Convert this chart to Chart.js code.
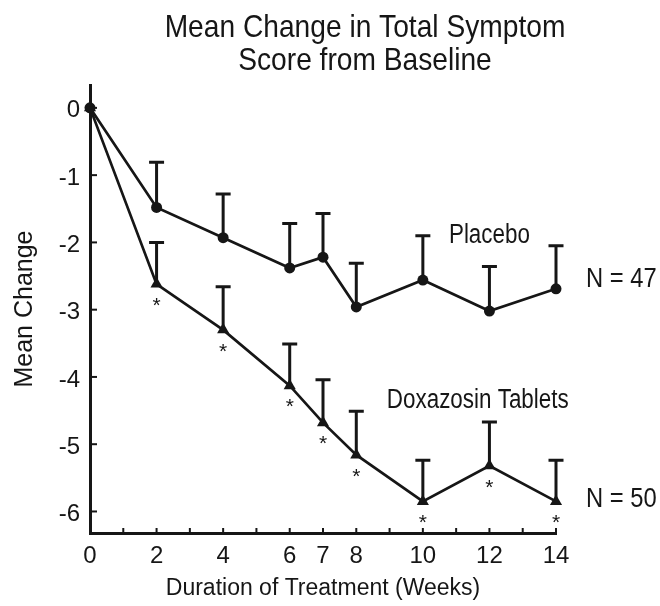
<!DOCTYPE html>
<html><head><meta charset="utf-8">
<script src="https://cdn.jsdelivr.net/npm/chart.js@4/dist/chart.umd.min.js"></script>
<style>html,body{margin:0;padding:0;background:#fff;}#wrap{width:660px;height:606px;}</style>
</head><body><div id="wrap"><canvas id="c" width="660" height="606"></canvas></div>
<script>
// ---- data ----
const weeks = [0, 2, 4, 6, 7, 8, 10, 12, 14];
const placeboMean = [0, -1.48, -1.93, -2.38, -2.22, -2.96, -2.56, -3.02, -2.69];
const placeboSE   = [0, 0.67, 0.65, 0.66, 0.65, 0.65, 0.66, 0.66, 0.64];
const doxMean     = [0, -2.62, -3.30, -4.13, -4.68, -5.16, -5.85, -5.32, -5.85];
const doxSE       = [0, 0.62, 0.64, 0.62, 0.64, 0.65, 0.61, 0.65, 0.61];
const doxSignificant = [false, true, true, true, true, true, true, true, true];
const yTickValues = [0, -1, -2, -3, -4, -5, -6];
const xTickLabels = [0, 2, 4, 6, 7, 8, 10, 12, 14];
const xMinorTicks = [1, 2, 3, 4, 5, 6, 7, 8, 9, 10, 11, 12, 13, 14];
const titleLines = ['Mean Change in Total Symptom', 'Score from Baseline'];
const seriesNames = ['Placebo', 'Doxazosin Tablets'];
const sampleSizes = ['N = 47', 'N = 50'];
const yAxisTitle = 'Mean Change';
const xAxisTitle = 'Duration of Treatment (Weeks)';

// ---- style / layout ----
const FONT = "'Liberation Sans', Arial, sans-serif";
const INK = '#161616';
Chart.defaults.font.family = FONT;
Chart.defaults.color = INK;

const annotations = [
  {text: seriesNames[0], x: 12, y: -1.9, align: 'center', sx: 0.83},
  {text: sampleSizes[0], x: 14.9, y: -2.55, align: 'left', sx: 0.88},
  {text: seriesNames[1], x: 11.65, y: -4.35, align: 'center', sx: 0.83},
  {text: sampleSizes[1], x: 14.9, y: -5.82, align: 'left', sx: 0.88}
];

const toPts = (ys) => weeks.map((w, i) => ({x: w, y: ys[i]}));

function narrowText(ctx, text, x, y, align, size, sx) {
  ctx.save();
  ctx.translate(x, y);
  ctx.scale(sx, 1);
  ctx.font = size + 'px ' + FONT;
  ctx.textAlign = align;
  ctx.textBaseline = 'middle';
  ctx.fillText(text, 0, 0);
  ctx.restore();
}

const decor = {
  id: 'decor',
  beforeDatasetsDraw(chart) {
    const ctx = chart.ctx, xs = chart.scales.x, ys = chart.scales.y;
    ctx.save();
    ctx.strokeStyle = INK; ctx.lineWidth = 3; ctx.lineCap = 'butt';
    [[placeboMean, placeboSE], [doxMean, doxSE]].forEach(([m, se]) => {
      weeks.forEach((w, i) => {
        if (!se[i]) return;
        const px = xs.getPixelForValue(w);
        const y0 = ys.getPixelForValue(m[i]);
        const y1 = ys.getPixelForValue(m[i] + se[i]);
        ctx.beginPath();
        ctx.moveTo(px, y0); ctx.lineTo(px, y1);
        ctx.moveTo(px - 7.5, y1); ctx.lineTo(px + 7.5, y1);
        ctx.stroke();
      });
    });
    ctx.restore();
  },
  afterDraw(chart) {
    const ctx = chart.ctx, xs = chart.scales.x, ys = chart.scales.y, ca = chart.chartArea;
    ctx.save();
    // inward tick marks
    ctx.strokeStyle = INK; ctx.lineWidth = 2;
    yTickValues.forEach(v => {
      const py = ys.getPixelForValue(v);
      ctx.beginPath(); ctx.moveTo(ca.left, py); ctx.lineTo(ca.left + 7, py); ctx.stroke();
    });
    xMinorTicks.forEach(v => {
      const px = xs.getPixelForValue(v);
      ctx.beginPath(); ctx.moveTo(px, ca.bottom); ctx.lineTo(px, ca.bottom - 5); ctx.stroke();
    });
    ctx.fillStyle = INK;
    // significance stars
    weeks.forEach((w, i) => {
      if (!doxSignificant[i]) return;
      narrowText(ctx, '*', xs.getPixelForValue(w), ys.getPixelForValue(doxMean[i]) + 22, 'center', 21, 1);
    });
    // series labels
    annotations.forEach(a => {
      narrowText(ctx, a.text, xs.getPixelForValue(a.x), ys.getPixelForValue(a.y), a.align, 27, a.sx);
    });
    // title
    titleLines.forEach((t, i) => narrowText(ctx, t, 365, 28 + i * 33, 'center', 32, 0.88));
    ctx.restore();
  }
};

new Chart(document.getElementById('c'), {
  type: 'line',
  data: {
    datasets: [
      {label: seriesNames[0], data: toPts(placeboMean), borderColor: INK, backgroundColor: INK,
       borderWidth: 2.7, pointStyle: 'circle', pointRadius: 5.5, pointBorderWidth: 0, clip: false},
      {label: seriesNames[1], data: toPts(doxMean), borderColor: INK, backgroundColor: INK,
       borderWidth: 2.7, pointStyle: 'triangle', pointRadius: 7, pointBorderWidth: 0, clip: false}
    ]
  },
  options: {
    responsive: false, animation: false, devicePixelRatio: 1,
    layout: {padding: {top: 85, right: 104, left: 0, bottom: 0}},
    plugins: {legend: {display: false}, tooltip: {enabled: false}, title: {display: false}},
    scales: {
      x: {
        type: 'linear', min: 0, max: 14,
        afterBuildTicks: s => { s.ticks = xTickLabels.map(v => ({value: v})); },
        afterFit: s => { s.height = 73; },
        grid: {display: false, drawTicks: false},
        border: {display: true, color: INK, width: 3},
        ticks: {font: {size: 24}, padding: 9, color: INK, maxRotation: 0, autoSkip: false},
        title: {display: true, text: xAxisTitle, font: {size: 23}, padding: {top: 0, bottom: 4}, color: INK}
      },
      y: {
        type: 'linear', min: -6.32, max: 0.34,
        afterBuildTicks: s => { s.ticks = yTickValues.map(v => ({value: v})); },
        afterFit: s => { s.width = 90; },
        grid: {display: false, drawTicks: false},
        border: {display: true, color: INK, width: 3},
        ticks: {font: {size: 24}, padding: 10, labelOffset: 3, color: INK, autoSkip: false},
        title: {display: true, text: yAxisTitle, font: {size: 25}, padding: {top: 10, bottom: 0}, color: INK}
      }
    }
  },
  plugins: [decor]
});
</script>
</body></html>
